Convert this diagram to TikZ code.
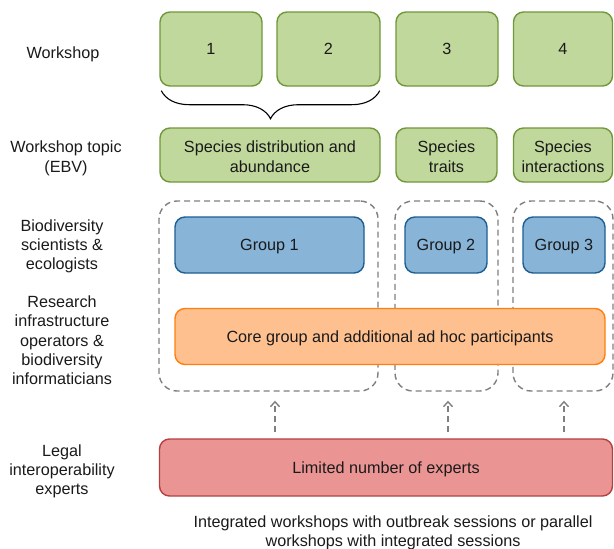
\documentclass[tikz,border=0pt]{standalone}
\usepackage{fontspec}
\setmainfont{Liberation Sans}
\usetikzlibrary{decorations.pathreplacing,arrows.meta}
\definecolor{gfill}{HTML}{C0D89B}\definecolor{gdraw}{HTML}{71973A}
\definecolor{bfill}{HTML}{88B4D8}\definecolor{bdraw}{HTML}{1B5E93}
\definecolor{ofill}{HTML}{FFC08F}\definecolor{odraw}{HTML}{FF7F0E}
\definecolor{rfill}{HTML}{EA9593}\definecolor{rdraw}{HTML}{B5403F}
\definecolor{dgray}{HTML}{7F7F7F}\definecolor{txt}{HTML}{1A1A1A}
\begin{document}
\begin{tikzpicture}[x=1pt,y=-1pt,
  every node/.style={font=\fontsize{16.2}{19.4}\selectfont, text=txt, align=center, inner sep=0pt},
  box/.style={rounded corners=10pt, line width=1.4pt, text height=11.6pt, text depth=0pt},
  gbox/.style={box, fill=gfill, draw=gdraw},
  bbox/.style={box, fill=bfill, draw=bdraw},
  obox/.style={box, fill=ofill, draw=odraw},
  rbox/.style={box, fill=rfill, draw=rdraw},
  dbox/.style={rounded corners=18pt, draw=dgray, line width=1.4pt, dash pattern=on 6pt off 4pt},
  arr/.style={draw=dgray, line width=1.4pt, dash pattern=on 6pt off 4pt, -{Straight Barb[length=5pt,width=9pt]}, shorten <=6pt, shorten >=9pt},
  lbl/.style={yshift=-1.8pt}]
\useasboundingbox (0,0) rectangle (614,549);
% dashed groups
\node[dbox, minimum width=219, minimum height=190] (d1) at (268.5,296) {};
\node[dbox, minimum width=103, minimum height=190] (d2) at (446.5,296) {};
\node[dbox, minimum width=100, minimum height=190] (d3) at (563,296) {};
% workshops
\node[gbox, minimum width=102, minimum height=74] (w1) at (211,49) {1};
\node[gbox, minimum width=103, minimum height=74] (w2) at (328.5,49) {2};
\node[gbox, minimum width=102, minimum height=74] (w3) at (447,49) {3};
\node[gbox, minimum width=99, minimum height=74] (w4) at (563,49) {4};
% brace
\path (w1.south west) ++(2,4) coordinate (b1);
\path (w2.south east) ++(-1,4) coordinate (b2);
\draw[line width=1.1pt, decorate, decoration={brace, mirror, amplitude=28pt, aspect=0.5}] (b1) -- (b2);
% topics
\node[gbox, minimum width=220, minimum height=54, label={[lbl]center:Species distribution and\\abundance}] (t1) at (270,155) {};
\node[gbox, minimum width=101, minimum height=54, label={[lbl]center:Species\\traits}] (t2) at (446.5,155) {};
\node[gbox, minimum width=99, minimum height=54, label={[lbl]center:Species\\interactions}] (t3) at (563,155) {};
% groups
\node[bbox, minimum width=189, minimum height=56] (g1) at (269.5,245) {Group 1};
\node[bbox, minimum width=82, minimum height=56] (g2) at (446,245) {Group 2};
\node[bbox, minimum width=82, minimum height=56] (g3) at (564,245) {Group 3};
\node[obox, minimum width=430, minimum height=56] (core) at (390,336.5) {Core group and additional ad hoc participants};
\node[rbox, minimum width=453, minimum height=57] (red) at (386,467.5) {Limited number of experts};
% arrows
\draw[arr] (red.north -| 275,0) -- (d1.south -| 275,0);
\draw[arr] (red.north -| 448,0) -- (d2.south -| 448,0);
\draw[arr] (red.north -| 564,0) -- (d3.south -| 564,0);
% left labels
\node[lbl] (l1) at (63,53) {Workshop};
\node[lbl] (l2) at (66,156.5) {Workshop topic\\(EBV)};
\node[lbl] (l3) at (62,244.5) {Biodiversity\\scientists \&\\ecologists};
\node[lbl] (l4) at (62,338.5) {Research\\infrastructure\\operators \&\\biodiversity\\informaticians};
\node[lbl] (l5) at (62,469.5) {Legal\\interoperability\\experts};
% caption
\node[lbl] (cap) at (393,531) {Integrated workshops with outbreak sessions or parallel\\workshops with integrated sessions};
\end{tikzpicture}
\end{document}
